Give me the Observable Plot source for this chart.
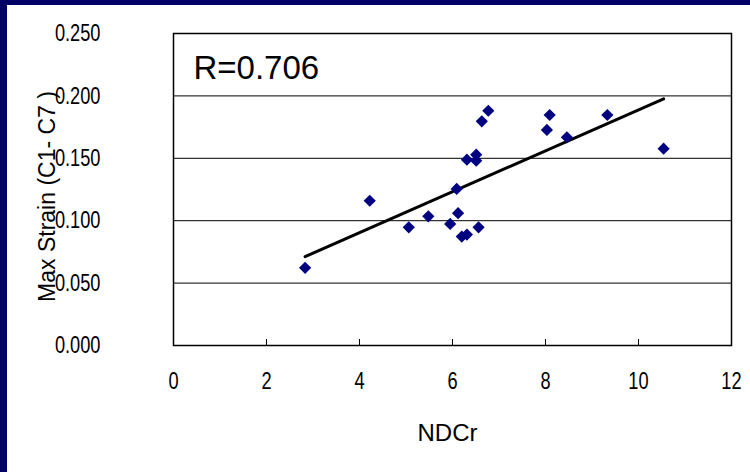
<!DOCTYPE html>
<html><head><meta charset="utf-8">
<script src="https://cdn.jsdelivr.net/npm/d3@7"></script>
<script src="https://cdn.jsdelivr.net/npm/@observablehq/plot@0.6"></script>
<style>
html,body{margin:0;padding:0;background:#fff;}
#wrap{position:relative;width:750px;height:472px;overflow:hidden;background:#fff;}
#border{position:absolute;left:0;top:0;width:750px;height:472px;box-sizing:border-box;border-left:7px solid #000066;border-top:5px solid #000066;pointer-events:none;}
</style></head><body>
<div id="wrap"><div id="chart"></div><div id="border"></div></div>
<script>
const ndcr = [2.83, 4.22, 5.06, 5.48, 5.95, 6.09, 6.12, 6.20, 6.31, 6.31, 6.51, 6.51, 6.56, 6.63, 6.77, 8.03, 8.09, 8.46, 9.33, 10.54];
const maxStrain = [0.0622, 0.116, 0.0947, 0.1035, 0.0974, 0.1255, 0.106, 0.0873, 0.0889, 0.1489, 0.1529, 0.1481, 0.0947, 0.1796, 0.1881, 0.1727, 0.1847, 0.1668, 0.1847, 0.1577];
const xTicks = [0, 2, 4, 6, 8, 10, 12];
const yTicks = [0, 0.05, 0.1, 0.15, 0.2, 0.25];
const rLabel = "R=0.706";
const xLabel = "NDCr";
const yLabel = "Max Strain (C1- C7 )";

const data = ndcr.map((x, i) => ({x, y: maxStrain[i]}));
const font = "'Liberation Sans', Arial, sans-serif";

const chart = Plot.plot({
  width: 750, height: 472,
  marginLeft: 173, marginRight: 19, marginTop: 33, marginBottom: 127,
  style: {fontFamily: font, background: "transparent", color: "#000", overflow: "visible"},
  x: {domain: [0, 12]},
  y: {domain: [0, 0.25]},
  marks: [
    Plot.ruleY(yTicks.slice(1), {stroke: "#000", strokeWidth: 1}),
    Plot.axisY({ticks: yTicks, tickSize: 0, tickPadding: 73, tickFormat: d3.format(".3f"), fontSize: 24, label: null}),
    Plot.axisX({ticks: xTicks, tickSize: 0, tickPadding: 26, tickFormat: d => String(d), fontSize: 24, label: null}),
    Plot.axisX({ticks: xTicks.slice(1, -1), tickSize: -6, tickFormat: () => "", label: null}),
    Plot.frame({stroke: "#000", strokeWidth: 1.5}),
    Plot.linearRegressionY(data, {x: "x", y: "y", stroke: "#000", strokeWidth: 3, ci: 0}),
    Plot.dot(data, {x: "x", y: "y", symbol: "diamond2", r: 5.5, fill: "#000080", stroke: "none"}),
    Plot.text([rLabel], {frameAnchor: "top-left", dx: 20, dy: 35, text: d => d, textAnchor: "start", lineAnchor: "middle", fontSize: 33}),
    Plot.text([xLabel], {frameAnchor: "bottom", dx: -5, dy: 88, text: d => d, lineAnchor: "middle", fontSize: 24, ariaLabel: "x-label narrow"}),
    Plot.text([yLabel], {frameAnchor: "left", dx: -126, dy: 7, text: d => d, rotate: -90, lineAnchor: "middle", textAnchor: "middle", fontSize: 23})
  ]
});
// condense tick labels horizontally, like the reference's tall narrow glyphs
const squeeze = 0.76;
for (const t of chart.querySelectorAll('[aria-label$="tick label"] text, [aria-label="x-label narrow"] text')) {
  const tr = t.getAttribute("transform") || "";
  t.setAttribute("transform", `${tr} scale(${squeeze},1)`);
}
document.getElementById("chart").append(chart);
</script>
</body></html>
